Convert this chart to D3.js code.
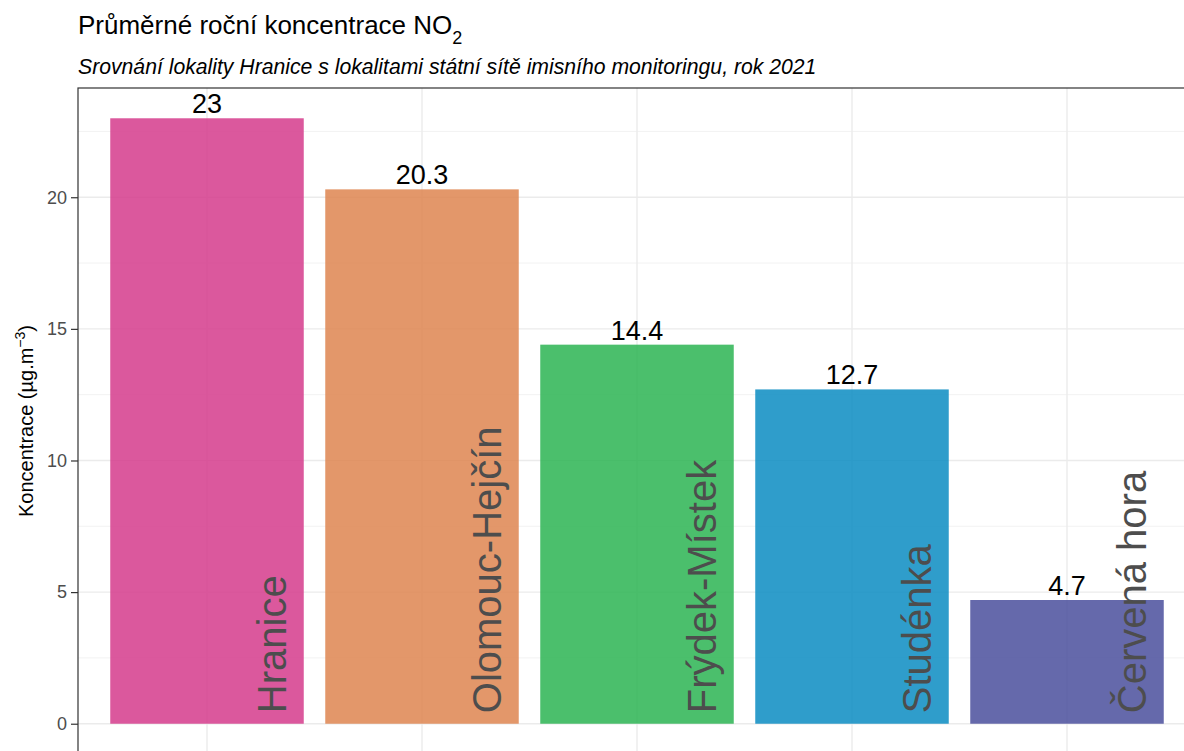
<!DOCTYPE html>
<html>
<head>
<meta charset="utf-8">
<script src="https://cdn.jsdelivr.net/npm/d3@7"></script>
<style>
  body { margin: 0; background: #fff; }
  svg { display: block; font-family: "Liberation Sans", Arial, sans-serif; }
</style>
</head>
<body>
<svg id="chart" width="1184" height="751"></svg>
<script>
// Annual mean NO2 concentration per station, 2021
const stations = ["Hranice", "Olomouc-Hejčín", "Frýdek-Místek", "Studénka", "Červená hora"];
const values = [23, 20.3, 14.4, 12.7, 4.7];
const barColors = ["#D53B8C", "#DE8550", "#2CB452", "#0A8CC2", "#4A4F9C"];
const yTicks = [0, 5, 10, 15, 20];
const yMinorTicks = [2.5, 7.5, 12.5, 17.5, 22.5];

const svg = d3.select("#chart");

// Panel geometry
const panel = { left: 78, top: 88, right: 1196, bottom: 754 };

const x = d3.scaleBand()
  .domain(stations)
  .range([panel.left, panel.right])
  .paddingInner(0.1)
  .paddingOuter(0.15);

const yMax = d3.max(values);
const yPad = yMax * 0.05;
const y = d3.scaleLinear()
  .domain([-yPad, yMax + yPad])
  .range([panel.bottom, panel.top]);

// Panel background
svg.append("rect")
  .attr("x", panel.left).attr("y", panel.top)
  .attr("width", panel.right - panel.left).attr("height", panel.bottom - panel.top)
  .attr("fill", "#fff");

// Grid lines
const grid = svg.append("g");
grid.selectAll("line.minor").data(yMinorTicks).join("line")
  .attr("class", "minor")
  .attr("x1", panel.left).attr("x2", panel.right)
  .attr("y1", d => y(d)).attr("y2", d => y(d))
  .attr("stroke", "#F2F2F2").attr("stroke-width", 1);
grid.selectAll("line.major").data(yTicks).join("line")
  .attr("class", "major")
  .attr("x1", panel.left).attr("x2", panel.right)
  .attr("y1", d => y(d)).attr("y2", d => y(d))
  .attr("stroke", "#EBEBEB").attr("stroke-width", 1.4);
grid.selectAll("line.vmajor").data(stations).join("line")
  .attr("class", "vmajor")
  .attr("x1", d => x(d) + x.bandwidth() / 2).attr("x2", d => x(d) + x.bandwidth() / 2)
  .attr("y1", panel.top).attr("y2", panel.bottom)
  .attr("stroke", "#EBEBEB").attr("stroke-width", 1.4);

// Bars
svg.append("g").selectAll("rect").data(stations).join("rect")
  .attr("x", d => x(d))
  .attr("width", x.bandwidth())
  .attr("y", (d, i) => y(values[i]))
  .attr("height", (d, i) => y(0) - y(values[i]))
  .attr("fill", (d, i) => barColors[i])
  .attr("fill-opacity", 0.85);

// Value labels above bars
svg.append("g").selectAll("text").data(stations).join("text")
  .attr("x", d => x(d) + x.bandwidth() / 2)
  .attr("y", (d, i) => y(values[i]) - 5)
  .attr("text-anchor", "middle")
  .attr("font-size", 27)
  .attr("fill", "#000")
  .text((d, i) => values[i]);

// Station names written vertically inside bars
svg.append("g").selectAll("text").data(stations).join("text")
  .attr("transform", d => `translate(${x(d) + x.bandwidth() / 2 + 79},${y(0.4)}) rotate(-90)`)
  .attr("text-anchor", "start")
  .attr("font-size", 40)
  .attr("fill", "#4D4D4D")
  .text(d => d);

// Panel border
svg.append("rect")
  .attr("x", panel.left).attr("y", panel.top)
  .attr("width", panel.right - panel.left).attr("height", panel.bottom - panel.top)
  .attr("fill", "none").attr("stroke", "#333333").attr("stroke-width", 1.2);

// Y axis
const yAxis = svg.append("g")
  .attr("transform", `translate(${panel.left},0)`)
  .call(d3.axisLeft(y).tickValues(yTicks).tickSize(7).tickPadding(4).tickFormat(d3.format("d")));
yAxis.select(".domain").remove();
yAxis.selectAll(".tick line").attr("stroke", "#333333").attr("stroke-width", 1.2);
yAxis.selectAll(".tick text")
  .attr("fill", "#4D4D4D")
  .attr("font-size", 18)
  .attr("font-family", "'Liberation Sans', Arial, sans-serif");

// Y axis title
const yTitle = svg.append("text")
  .attr("transform", `translate(33,${(panel.top + panel.bottom) / 2}) rotate(-90)`)
  .attr("text-anchor", "middle")
  .attr("font-size", 20)
  .attr("fill", "#000");
yTitle.append("tspan").text("Koncentrace (µg.m");
yTitle.append("tspan").attr("baseline-shift", "super").attr("font-size", 14).text("−3");
yTitle.append("tspan").text(")");

// Title and subtitle
const title = svg.append("text")
  .attr("x", panel.left).attr("y", 34)
  .attr("font-size", 26)
  .attr("fill", "#000");
title.append("tspan").text("Průměrné roční koncentrace NO");
title.append("tspan").attr("baseline-shift", "sub").attr("font-size", 18).text("2");

svg.append("text")
  .attr("x", panel.left).attr("y", 74)
  .attr("font-size", 21.2)
  .attr("font-style", "italic")
  .attr("fill", "#000")
  .text("Srovnání lokality Hranice s lokalitami státní sítě imisního monitoringu, rok 2021");
</script>
</body>
</html>
